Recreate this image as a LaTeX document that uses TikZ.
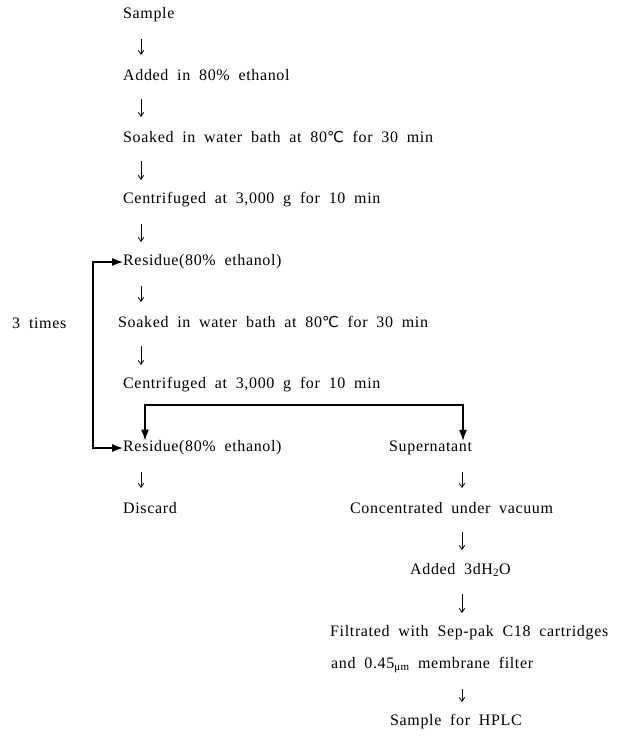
\documentclass[tikz,border=0pt]{standalone}
\usepackage{fontspec}
\setmainfont{Liberation Serif}[LetterSpace=4,WordSpace=1.9]
\newfontfamily\degfont{DejaVu Sans}
\usetikzlibrary{arrows.meta}

\tikzset{
  stage/.style={anchor=west, inner sep=0pt, font=\fontsize{16}{19}\selectfont},
  down/.style={-{Straight Barb[length=4pt,width=5.5pt]}, line width=0.8pt,
    shorten <=24pt, shorten >=20pt},
  fork/.style={line width=1.2pt, {Latex[length=11pt,width=8pt]}-{Latex[length=11pt,width=8pt]}}
}
\newcommand{\degC}{{\degfont\fontsize{15}{15}\selectfont ℃}}
\newcommand{\microm}{\raisebox{-2pt}{\fontsize{11}{11}\selectfont μm}}

\begin{document}
\begin{tikzpicture}[x=1pt,y=-1pt]
  \useasboundingbox (0,0) rectangle (617,737);
  \coordinate (colL) at (141,0);
  \coordinate (colR) at (462,0);
  \coordinate (loopx) at (93,0);
  \coordinate (forkL) at (145,405);
  \coordinate (forkR) at (463,405);

  % extraction steps
  \node[stage] (sample) at (123,15) {Sample};
  \node[stage] (added) at (123,75) {Added in 80\% ethanol};
  \node[stage] (soakA) at (123,137) {Soaked in water bath at 80\degC\ for 30 min};
  \node[stage] (centA) at (123,200) {Centrifuged at 3,000 g for 10 min};
  \node[stage] (resA) at (123,262) {Residue(80\% ethanol)};
  \node[stage] (soakB) at (118,322) {Soaked in water bath at 80\degC\ for 30 min};
  \node[stage] (centB) at (123,385) {Centrifuged at 3,000 g for 10 min};
  \node[stage] (resB) at (123,448) {Residue(80\% ethanol)};
  \node[stage] (discard) at (123,508) {Discard};
  \node[stage] (times) at (12,323) {3 times};

  % supernatant branch
  \node[stage] (super) at (389,448) {Supernatant};
  \node[stage] (conc) at (350,508) {Concentrated under vacuum};
  \node[stage] (water) at (410,570) {Added 3dH\textsubscript{2}O};
  \node[stage] (filt) at (330,633) {Filtrated with Sep-pak C18 cartridges};
  \node[stage] (filtb) at (331,665) {and 0.45\microm\ membrane filter};
  \node[stage] (hplc) at (390,722) {Sample for HPLC};

  \draw[down] (sample -| colL) -- (added -| colL);
  \draw[down] (added -| colL) -- (soakA -| colL);
  \draw[down] (soakA -| colL) -- (centA -| colL);
  \draw[down] (centA -| colL) -- (resA -| colL);
  \draw[down] (resA -| colL) -- (soakB -| colL);
  \draw[down] (soakB -| colL) -- (centB -| colL);
  \draw[down] (resB -| colL) -- (discard -| colL);
  \draw[down] (super -| colR) -- (conc -| colR);
  \draw[down] (conc -| colR) -- (water -| colR);
  \draw[down] (water -| colR) -- (filt -| colR);
  \draw[down] (filtb -| colR) -- (hplc -| colR);

  \draw[fork] (resB.west) -- (resB -| loopx) -- (resA -| loopx) -- (resA.west);
  \draw[fork] (resB.north -| forkL) -- (forkL) -- (forkR) -- (super.north -| forkR);
\end{tikzpicture}
\end{document}
